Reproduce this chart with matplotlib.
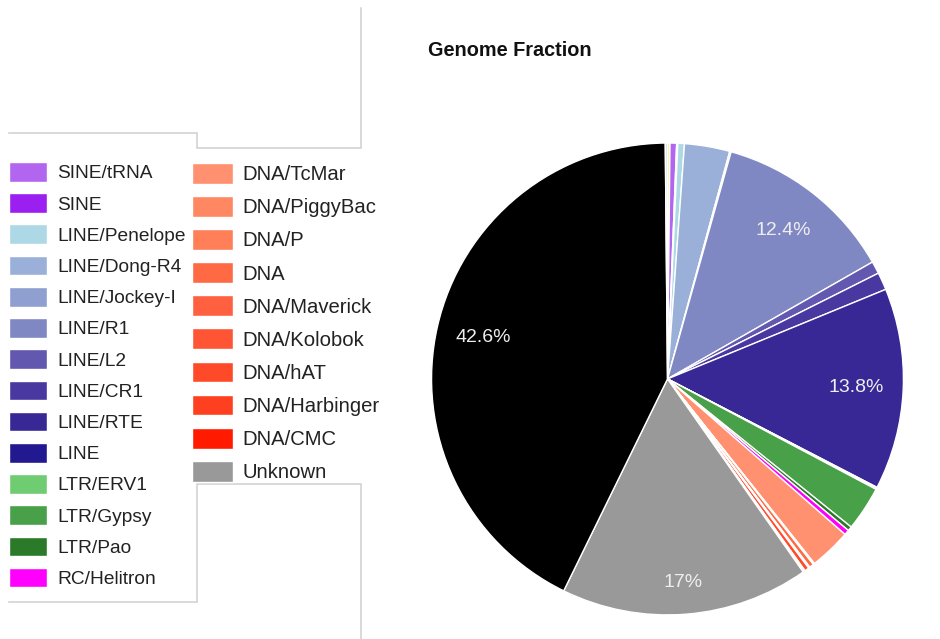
import matplotlib.pyplot as plt

plt.rcParams['font.family'] = ['Liberation Sans', 'DejaVu Sans']

# repeat classes in drawing order (clockwise from 12 o'clock)
labels = ['Low_complexity', 'SINE/tRNA', 'SINE', 'LINE/Penelope', 'LINE/Dong-R4',
          'LINE/Jockey-I', 'LINE/R1', 'LINE/L2', 'LINE/CR1', 'LINE/RTE', 'LINE',
          'LTR/ERV1', 'LTR/Gypsy', 'LTR/Pao', 'RC/Helitron',
          'DNA/TcMar', 'DNA/PiggyBac', 'DNA/P', 'DNA', 'DNA/Maverick', 'DNA/Kolobok',
          'DNA/hAT', 'DNA/Harbinger', 'DNA/CMC', 'Unknown', 'Non-repeat', 'Simple_repeat']
fractions = [0.17, 0.45, 0.08, 0.45, 3.1,
             0.1, 12.4, 0.85, 1.2, 13.8, 0.05,
             0.1, 3.05, 0.3, 0.35,
             2.85, 0.05, 0.05, 0.3, 0.05, 0.05,
             0.3, 0.05, 0.1, 17.0, 42.6, 0.15]
colors = ['#f5f56a', '#b266f0', '#9b1ff0', '#add8e6', '#9ab0d8',
          '#8f9fd0', '#8088c4', '#6258b0', '#4838a0', '#382896', '#221890',
          '#70cc70', '#48a048', '#2a7a2a', '#ff00ff',
          '#ff9070', '#ff8862', '#ff7f58', '#ff6a45', '#ff6040', '#ff5535',
          '#ff4a2a', '#ff4020', '#ff1a00', '#999999', '#000000', '#dcdcdc']

# classes listed in each legend column
col1 = slice(1, 15)
col2 = slice(15, 25)

fig = plt.figure(figsize=(9.4, 6.39), dpi=100)

# thin grey frame pieces around the legend, drawn in pixel space
bg = fig.add_axes([0, 0, 1, 1])
bg.set_xlim(0, 940)
bg.set_ylim(639, 0)
bg.axis('off')
frame = [
    ([9, 197, 197, 361, 361], [133, 133, 148, 148, 8]),
    ([9, 197, 197, 361, 361], [602, 602, 484, 484, 639]),
]
for xs, ys in frame:
    bg.plot(xs, ys, color='#cfcfcf', lw=1.1, solid_joinstyle='miter')


def pct_label(p):
    return f'{p:.3g}%' if p > 10 else ''


ax = fig.add_axes([0.4591, 0.0376, 0.502, 0.7387])
wedges, texts, autotexts = ax.pie(
    fractions, colors=colors, startangle=90, counterclock=False,
    autopct=pct_label, pctdistance=0.8,
    wedgeprops=dict(edgecolor='white', linewidth=1.0),
    textprops=dict(color='#eeeeee', fontsize=14))
ax.set_aspect('equal')
ax.set_xlim(-1, 1)
ax.set_ylim(-1, 1)

# the Unknown label sits a bit further out
lab = autotexts[labels.index('Unknown')]
x, y = lab.get_position()
lab.set_position((x * 1.08, y * 1.08))

fig.text(428 / 940, 1 - 50 / 639, 'Genome Fraction', fontsize=14.3,
         fontweight='bold', ha='left', va='center', color='#111111')

fig.legend(wedges[col1], labels[col1], loc='upper left',
           bbox_to_anchor=(9 / 940, 1 - 162 / 639), frameon=False,
           fontsize=13.8, handlelength=2.0, handleheight=1.2,
           handletextpad=0.5, labelspacing=0.57, borderpad=0,
           borderaxespad=0, labelcolor='#222222')
fig.legend(wedges[col2], labels[col2], loc='upper left',
           bbox_to_anchor=(192 / 940, 1 - 163 / 639), frameon=False,
           fontsize=14.6, handlelength=2.0, handleheight=1.2,
           handletextpad=0.5, labelspacing=0.585, borderpad=0,
           borderaxespad=0, labelcolor='#222222')

fig.savefig('out.png', dpi=100)
